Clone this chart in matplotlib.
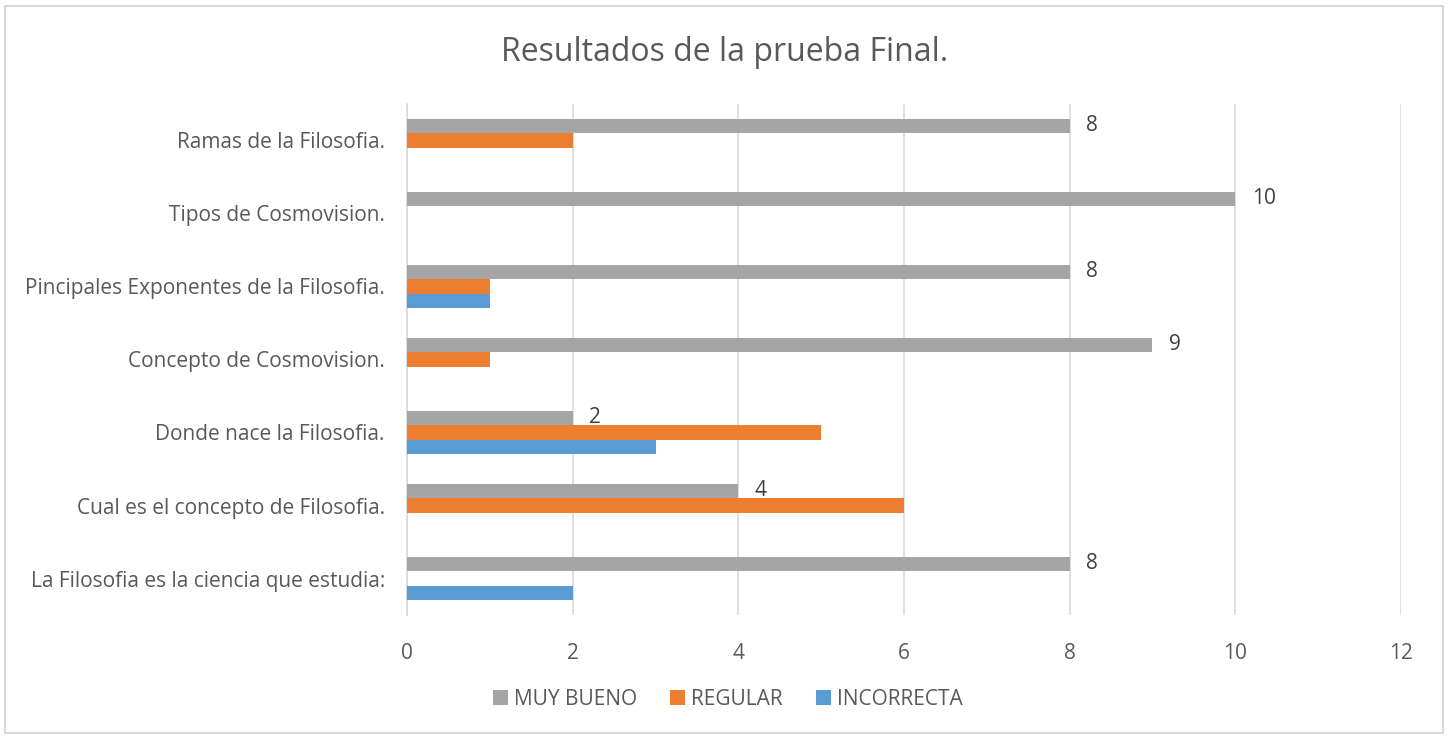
import matplotlib.pyplot as plt
import numpy as np
from matplotlib.patches import Rectangle

plt.rcParams['font.family'] = ['Open Sans', 'DejaVu Sans']

# categories from bottom to top (as drawn)
categories = ['La Filosofia es la ciencia que estudia:',
              'Cual es el concepto de Filosofia.',
              'Donde nace la Filosofia.',
              'Concepto de Cosmovision.',
              'Pincipales Exponentes de la Filosofia.',
              'Tipos de Cosmovision.',
              'Ramas de la Filosofia.']
muy_bueno = [8, 4, 2, 9, 8, 10, 8]
regular = [0, 6, 5, 1, 1, 0, 2]
incorrecta = [2, 0, 3, 0, 1, 0, 0]

text_col = '#595959'
grid_col = '#d9d9d9'

fig = plt.figure(figsize=(14.5, 7.36), dpi=100)
ax = fig.add_axes([0.2807, 0.1644, 0.6855, 0.6943])

y = np.arange(len(categories))
h = 0.2
ax.barh(y + h, muy_bueno, height=h, color='#A5A5A5', label='MUY BUENO', zorder=3)
ax.barh(y, regular, height=h, color='#ED7D31', label='REGULAR', zorder=3)
ax.barh(y - h, incorrecta, height=h, color='#5B9BD5', label='INCORRECTA', zorder=3)

for yi, v in zip(y, muy_bueno):
    ax.text(v + 0.2, yi + h, str(v), va='center', ha='left', fontsize=15, color='#404040')

ax.set_xlim(0, 12)
ax.set_ylim(-0.5, len(categories) - 0.5)
ax.set_xticks(range(0, 13, 2))
ax.set_yticks(y)
ax.set_yticklabels(categories)
ax.tick_params(axis='both', length=0, labelsize=15, colors=text_col)
ax.tick_params(axis='x', pad=20)
ax.tick_params(axis='y', pad=16)
ax.xaxis.grid(True, color=grid_col, linewidth=1.2, zorder=0)
for s in ['top', 'right', 'bottom']:
    ax.spines[s].set_visible(False)
ax.spines['left'].set_color(grid_col)
ax.spines['left'].set_linewidth(1.2)

fig.suptitle('Resultados de la prueba Final.', x=0.5, y=0.929, va='center', fontsize=23, color=text_col)

fig.legend(loc='center', bbox_to_anchor=(0.502, 0.05), ncol=3, frameon=False,
           fontsize=15, labelcolor=text_col, handlelength=0.7, handleheight=0.7,
           handletextpad=0.3, columnspacing=1.6)

fig.patches.append(Rectangle((0.0035, 0.004), 0.9917, 0.988, transform=fig.transFigure,
                             fill=False, edgecolor=grid_col, linewidth=1.5))

fig.savefig('out.png', dpi=100)
